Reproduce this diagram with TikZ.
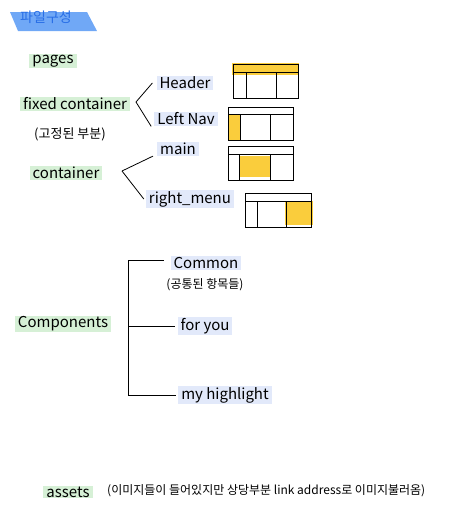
\documentclass[tikz,border=0pt]{standalone}
\usepackage{fontspec}
\setmainfont{Noto Sans CJK KR}
\usetikzlibrary{positioning}

\definecolor{hlblue}{RGB}{226,233,250}
\definecolor{hlgreen}{RGB}{214,240,214}
\definecolor{titleblue}{RGB}{112,168,246}
\definecolor{titleink}{RGB}{40,110,230}
\definecolor{marker}{RGB}{250,205,60}

\tikzset{
  group/.style = {fill = hlgreen, inner xsep = 3pt, inner ysep = 1pt, font = \fontsize{15}{17}\selectfont},
  leaf/.style = {fill = hlblue, inner xsep = 3pt, inner ysep = 1pt, font = \fontsize{15}{17}\selectfont},
  note/.style = {inner sep = 1pt, font = \fontsize{12}{14}\selectfont},
  branch/.style = {line width = 0.8pt},
  frame/.style = {line width = 0.8pt},
  bar/.style = {fill = marker}
}

\begin{document}
\begin{tikzpicture}[x = 1pt, y = -1pt]
\useasboundingbox (0,0) rectangle (453,515);

% title
\fill[titleblue] (10,12) -- (87,12) -- (97,31) -- (18,31) -- cycle;
\node[inner sep = 1pt, text = titleink, font = \fontsize{14}{16}\selectfont] (title) at (46,17) {파일구성};

% pages, fixed container, container
\node[group] (pages) at (53,61) {pages};
\node[group] (fixed) at (75,104) {fixed container};
\node[note, font = \fontsize{13}{15}\selectfont] (fixednote) at (70,134) {(고정된 부분)};
\node[group] (cont) at (66,173) {container};

\node[leaf] (header) at (185,83) {Header};
\node[leaf] (leftnav) at (186,119) {Left Nav};
\node[leaf] (main) at (178,149) {main};
\node[leaf] (rmenu) at (190,199) {right\_menu};

\coordinate (fixedfork) at (136,102);
\coordinate (contfork) at (122,171);
\draw[branch] (fixedfork) -- ([xshift = -4pt]header.west);
\draw[branch] (fixedfork) -- ([xshift = -3pt]leftnav.south west);
\draw[branch] (contfork) -- ([xshift = -4pt]main.south west);
\draw[branch] (contfork) -- ([xshift = -2pt]rmenu.west);

% wireframes
\fill[bar] (232,63) rectangle (299,75);
\draw[frame] (233,64) rectangle (298,98);
\draw[frame] (233,72) -- (298,72);
\draw[frame] (246,72) -- (246,98);
\draw[frame] (276,72) -- (276,98);

\fill[bar] (228,114) rectangle (240,140);
\draw[frame] (228,107) rectangle (293,140);
\draw[frame] (228,114) -- (293,114);
\draw[frame] (240,114) -- (240,140);
\draw[frame] (270,114) -- (270,140);

\fill[bar] (239,156) rectangle (271,177);
\draw[frame] (228,146) rectangle (293,180);
\draw[frame] (228,154) -- (293,154);
\draw[frame] (239,154) -- (239,180);
\draw[frame] (270,154) -- (270,180);

\fill[bar] (285,201) rectangle (313,225);
\draw[frame] (245,193) rectangle (311,227);
\draw[frame] (245,201) -- (311,201);
\draw[frame] (257,201) -- (257,227);
\draw[frame] (286,201) -- (286,227);

% components
\node[group] (comp) at (63,324) {Components};
\node[leaf] (common) at (206,263) {Common};
\node[note] (commonnote) at (205,285) {(공통된 항목들)};
\node[leaf] (foryou) at (205,326) {for you};
\node[leaf] (myhl) at (225,395) {my highlight};

\coordinate (combar) at (128,260);
\draw[branch] (combar) -- (combar |- myhl);
\draw[branch] (combar) -- ([xshift = -6pt]common.west |- combar);
\draw[branch] (combar |- foryou) -- ([xshift = -2pt]foryou.west);
\draw[branch] (combar |- myhl) -- ([xshift = -2pt]myhl.west);

% assets
\node[group] (assets) at (68,492) {assets};
\node[note, anchor = west] (assetsnote) at (106,491) {(이미지들이 들어있지만 상당부분 link address로 이미지불러옴)};
\end{tikzpicture}
\end{document}
